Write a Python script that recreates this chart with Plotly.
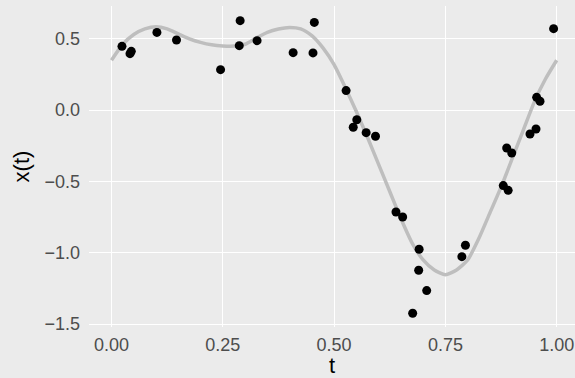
import plotly.graph_objects as go

# observed points
t_obs = [0.0236, 0.0416, 0.0445, 0.102, 0.146, 0.245,
         0.287, 0.289, 0.327, 0.408, 0.4526, 0.4556,
         0.527, 0.543, 0.551, 0.572, 0.593,
         0.639, 0.654, 0.6765, 0.690, 0.691, 0.708, 0.787, 0.795,
         0.880, 0.8877, 0.891, 0.899, 0.940, 0.9535, 0.955, 0.9625,
         0.993]
x_obs = [0.447, 0.396, 0.412, 0.545, 0.492, 0.284,
         0.452, 0.627, 0.487, 0.403, 0.401, 0.615,
         0.137, -0.120, -0.067, -0.158, -0.183,
         -0.714, -0.749, -1.424, -1.122, -0.975, -1.265, -1.027, -0.947,
         -0.529, -0.265, -0.562, -0.300, -0.167, -0.132, 0.090, 0.062,
         0.571]

# fitted smooth curve
t_fit = [0.0, 0.025, 0.05, 0.075, 0.1, 0.125, 0.15, 0.175, 0.2, 0.225, 0.25,
         0.275, 0.3, 0.325, 0.35, 0.375, 0.4, 0.425, 0.45, 0.475, 0.5,
         0.525, 0.55, 0.575, 0.6, 0.625, 0.65, 0.675, 0.7, 0.725, 0.75,
         0.775, 0.8, 0.825, 0.85, 0.875, 0.9, 0.925, 0.95, 0.975, 1.0]
x_fit = [0.35, 0.46, 0.53, 0.569, 0.585, 0.57, 0.535, 0.50, 0.475, 0.458, 0.450,
         0.449, 0.462, 0.505, 0.545, 0.569, 0.580, 0.570, 0.522, 0.436, 0.319,
         0.160, -0.010, -0.190, -0.380, -0.570, -0.760, -0.930, -1.050, -1.120, -1.153,
         -1.120, -1.050, -0.900, -0.720, -0.540, -0.340, -0.140, 0.060, 0.220, 0.350]

x_ticks = [0.0, 0.25, 0.5, 0.75, 1.0]
x_ticktext = ["0.00", "0.25", "0.50", "0.75", "1.00"]
y_ticks = [-1.5, -1.0, -0.5, 0.0, 0.5]
y_ticktext = ["\u22121.5", "\u22121.0", "\u22120.5", "0.0", "0.5"]

BG = "#EBEBEB"
FONT = "Liberation Sans, Arial, sans-serif"

fig = go.Figure()
fig.add_trace(go.Scatter(x=t_fit, y=x_fit, mode="lines",
                         line=dict(color="#BEBEBE", width=3.5, shape="spline", smoothing=0.6),
                         hoverinfo="skip", showlegend=False))
fig.add_trace(go.Scatter(x=t_obs, y=x_obs, mode="markers",
                         marker=dict(color="black", size=9, line=dict(width=0)),
                         showlegend=False))

fig.update_layout(
    width=575, height=378,
    margin=dict(l=89, r=0, t=6, b=51),
    paper_bgcolor=BG, plot_bgcolor=BG,
    font=dict(family=FONT, color="#4D4D4D", size=18),
    showlegend=False,
)
fig.update_xaxes(
    range=[-0.0505, 1.0411], tickvals=x_ticks, ticktext=x_ticktext,
    showgrid=True, gridcolor="white", gridwidth=1, zeroline=False, showline=False,
    ticks="", ticklabelstandoff=5, tickfont=dict(size=18, color="#4D4D4D"),
    title=dict(text="t", font=dict(size=22, color="black"), standoff=5),
)
fig.update_yaxes(
    range=[-1.52, 0.73], tickvals=y_ticks, ticktext=y_ticktext,
    showgrid=True, gridcolor="white", gridwidth=1, zeroline=False, showline=False,
    ticks="", ticklabelstandoff=8, tickfont=dict(size=18, color="#4D4D4D"),
    title=dict(text="x(t)", font=dict(size=22, color="black"), standoff=8),
)

fig.write_html("out.html")
